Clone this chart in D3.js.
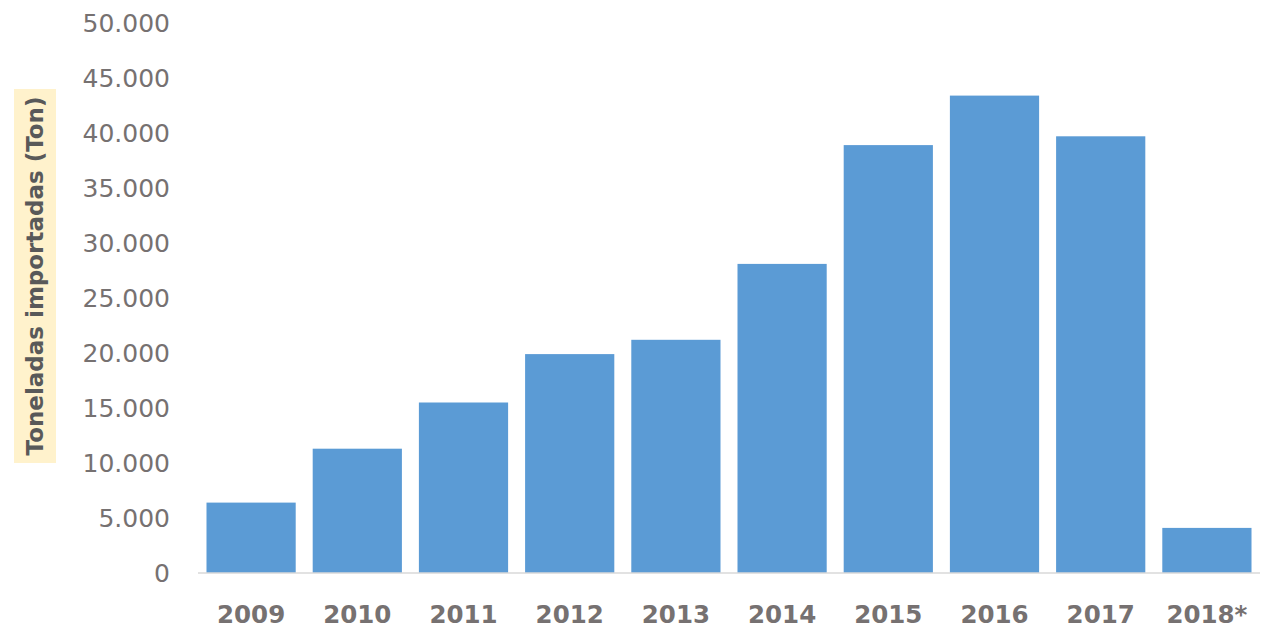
<!DOCTYPE html>
<html>
<head>
<meta charset="utf-8">
<script src="https://cdn.jsdelivr.net/npm/d3@7"></script>
<style>
  body { margin: 0; background: #fff; }
  svg text { font-family: "DejaVu Sans", sans-serif; }
</style>
</head>
<body>
<svg id="chart" width="1269" height="629"></svg>
<script>
// data
const years = ["2009", "2010", "2011", "2012", "2013", "2014", "2015", "2016", "2017", "2018*"];
const tons = [6400, 11300, 15500, 19900, 21200, 28100, 38900, 43400, 39700, 4100];
const yTicks = [0, 5000, 10000, 15000, 20000, 25000, 30000, 35000, 40000, 45000, 50000];
const yTitle = "Toneladas importadas (Ton)";

const svg = d3.select("#chart");
const margin = { left: 198, right: 9, top: 23, bottom: 56 };
const width = +svg.attr("width"),
  height = +svg.attr("height");

const x = d3
  .scaleBand()
  .domain(years)
  .range([margin.left, width - margin.right])
  .paddingInner(0.16)
  .paddingOuter(0.08);

const y = d3
  .scaleLinear()
  .domain([0, 50000])
  .range([height - margin.bottom, margin.top]);

const fmt = (d) => d3.format(",")(d).replace(/,/g, ".");

// bars
svg
  .append("g")
  .selectAll("rect")
  .data(tons)
  .join("rect")
  .attr("x", (d, i) => x(years[i]))
  .attr("y", (d) => y(d))
  .attr("width", x.bandwidth())
  .attr("height", (d) => y(0) - y(d))
  .attr("fill", "#5b9bd5");

// baseline
svg
  .append("line")
  .attr("x1", margin.left)
  .attr("x2", width - margin.right)
  .attr("y1", y(0))
  .attr("y2", y(0))
  .attr("stroke", "#d9d9d9")
  .attr("stroke-width", 1.5);

// y axis labels
const yAxis = svg
  .append("g")
  .attr("transform", `translate(170,0)`)
  .call(d3.axisLeft(y).tickValues(yTicks).tickFormat(fmt).tickSize(0).tickPadding(0));
yAxis.select(".domain").remove();
yAxis
  .selectAll("text")
  .attr("fill", "#767171")
  .style("font-size", "25px");

// x axis labels
const xAxis = svg
  .append("g")
  .attr("transform", `translate(0,${y(0)})`)
  .call(d3.axisBottom(x).tickSize(0).tickPadding(33));
xAxis.select(".domain").remove();
xAxis
  .selectAll("text")
  .attr("fill", "#767171")
  .style("font-size", "24.5px")
  .style("font-weight", "bold");

// y title with its yellow box
const titleG = svg.append("g").attr("transform", "translate(35,276) rotate(-90)");
titleG
  .append("rect")
  .attr("x", -187)
  .attr("y", -21)
  .attr("width", 374)
  .attr("height", 42)
  .attr("fill", "#fff2cc");
titleG
  .append("text")
  .attr("text-anchor", "middle")
  .attr("dy", "0.35em")
  .attr("fill", "#595959")
  .style("font-size", "23px")
  .style("font-weight", "bold")
  .text(yTitle);
</script>
</body>
</html>
